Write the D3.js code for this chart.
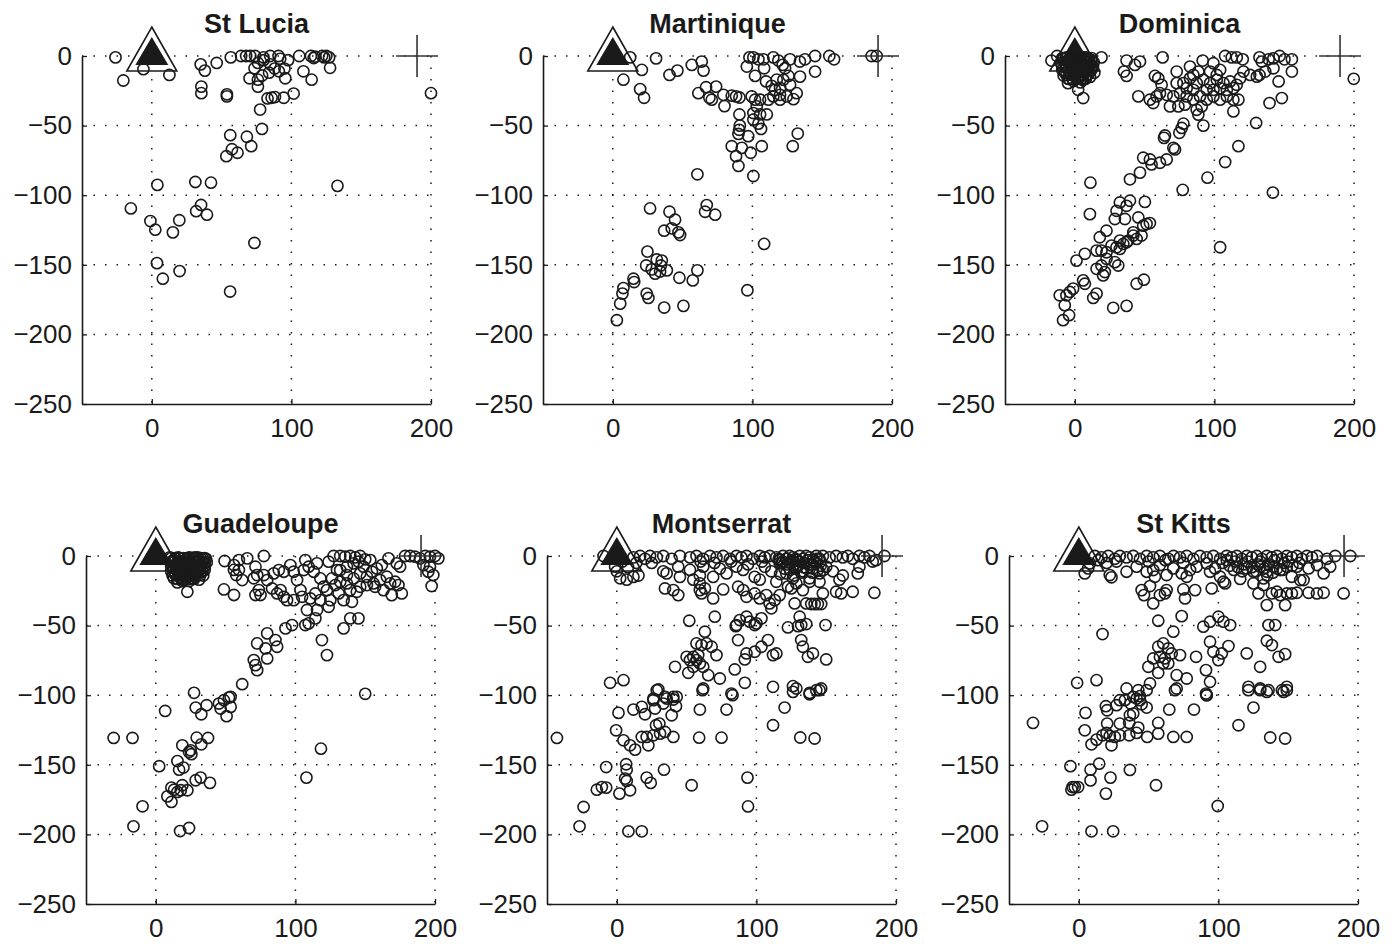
<!DOCTYPE html>
<html>
<head>
<meta charset="utf-8">
<script src="https://cdn.jsdelivr.net/npm/d3@7"></script>
<style>
  body { margin: 0; background: #fff; }
  svg text { font-family: "Liberation Sans", Arial, Helvetica, sans-serif; fill: #1a1a1a; }
</style>
</head>
<body>
<div id="chart"></div>
<script>
// depth (y) vs along-arc distance (x) for each island
const xTicks = [0, 100, 200];
const yTicks = [0, -50, -100, -150, -200, -250];
const gridY = [0, -50, -100, -150, -200];
const volcano = [0, 0];
const station = [190, 0];

const stLucia = [[-26,-1],[-20.4,-17.6],[-6,-9.5],[12.6,-13.6],[35,-6],[38,-10.5],[46.5,-5],[35.5,-22],[35.5,-26.7],
  [53.8,-27.5],[53.8,-29],[56.6,-1],[64,0],[67.6,0],[70.5,0],[74,0],[80,-1],[84.8,0],[90.8,0],[92,-2],[73.6,-8.8],
  [76,-5],[80,-3],[85,-6],[88,-9],[91,-11],[95,-9],[84,-12],[79,-14],[70,-16],[76,-17],[76,-22],[95.6,-16],[97.6,-3],
  [105.6,0],[108.6,-11],[114.5,-17],[114,0],[116,-1.5],[117,-0.5],[122,0],[123.5,-1],[125,0],[127,-1],[127.7,-8.5],
  [101.6,-27],[94.5,-30],[82.9,-30.5],[85.8,-30],[88.2,-29.5],[77.6,-38.5],[200,-26.7],[78.9,-52.4],[56.2,-56.9],
  [68.1,-58],[71.2,-64.8],[57.4,-67],[61.4,-69.5],[53.4,-72],[4,-92.6],[31.2,-90.5],[42.4,-91],[133,-93.3],
  [-15,-109.5],[35.3,-107],[31.8,-111.5],[39.5,-114],[-1,-118.6],[19.7,-118],[2.5,-124.8],[15.1,-126.7],
  [73.5,-134.3],[3.7,-148.8],[19.9,-154.5],[7.9,-160],[56.1,-169.2]];

const martinique = [[12.4,-1],[31,-1.7],[7.6,-17],[20.8,-10],[19.6,-23.8],[22.4,-30],[40.6,-13.6],[46.3,-10.5],
  [56.6,-6.4],[63.7,-4],[65,-10.5],[61.3,-26.7],[66.8,-22.4],[74,-22],[69.2,-30],[70.9,-31.4],[80,-36],[85.2,-28.5],
  [88.3,-29],[90.7,-29.8],[79.2,-27.9],[90.7,-42],[91,-50],[90.5,-53],[90,-56],[97,-57.6],[85.2,-64.8],[92.4,-66],
  [88.3,-72],[90,-79],[98.8,-69.5],[106.7,-64.8],[132.5,-55.7],[128.9,-64.8],[60.6,-85],[100.7,-86.2],
  [97.9,-1],[100.7,-1],[104.3,-2.4],[107.9,-2.4],[115,-1],[118.6,-3.3],[121.7,-6.4],[123.4,-8.8],[127,-2.4],[134,-4],
  [137.7,-2.4],[144.9,0],[155.1,0],[158.5,-2.4],[96,-7.6],[101.9,-14.3],[108.4,-8.8],
  [109.8,-18.3],[113.8,-21.4],[116.2,-24.3],[119.8,-23],[115,-29],[119.8,-31.4],[124.6,-29],[129.4,-31],[127,-20.7],
  [122.2,-17.1],[134.1,-14.8],[131.7,-26.7],[144.9,-11.2],[111.5,-31.4],[105.5,-31.4],[101.9,-31.4],[103.1,-36.2],
  [100.7,-41],[105.5,-42],[110.3,-42],[100.7,-45.7],[106.2,-52.4],[104.3,-48.6],[99.5,-29],[117.4,-17],[125.8,-14.3],
  [119.8,-27.9],[185.4,0],[189,0],
  [26.7,-109.5],[67.3,-107.1],[66.1,-111.9],[73.3,-114],[40.6,-111.9],[44.6,-117.6],[36.8,-125.5],[42.2,-123.8],
  [47,-126.7],[48.2,-128.6],[108.4,-135],[24.8,-140.5],[23.9,-150.5],[31.5,-146.2],[35.1,-147],[34.4,-150.5],
  [27.9,-153.3],[30.3,-156.4],[33.9,-154.8],[38.7,-154],[47.7,-159.3],[57.3,-161.2],[60.6,-154],[14.8,-160],
  [15.3,-162.4],[7.6,-166.7],[6.9,-170.7],[5.3,-177.9],[2.9,-189.8],[24.3,-170.7],[25.5,-173.8],[36.8,-180.7],
  [50.6,-179.5],[96.4,-168.3]];

// the dense near-summit swarm of Dominica, read as a tight cluster
const dominicaSwarm = [[-9,-1.5],[-6,-1.5],[-3,-1.5],[0,-1.5],[3,-1.5],[6,-1.5],[9,-1.5],[12,-1.5],
  [-7.5,-4.5],[-4.5,-4.5],[-1.5,-4.5],[1.5,-4.5],[4.5,-4.5],[7.5,-4.5],[10.5,-4.5],[13.5,-4.5],
  [-9,-7.5],[-6,-7.5],[-3,-7.5],[0,-7.5],[3,-7.5],[6,-7.5],[9,-7.5],[12,-7.5],
  [-7.5,-10.5],[-4.5,-10.5],[-1.5,-10.5],[1.5,-10.5],[4.5,-10.5],[7.5,-10.5],[10.5,-10.5],
  [-6,-13.5],[-3,-13.5],[0,-13.5],[3,-13.5],[6,-13.5],[9,-13.5],
  [-4.5,-16.5],[-1.5,-16.5],[1.5,-16.5],[4.5,-16.5],[7.5,-16.5]];

const dominica = [[-8,-2],[-5,-4],[-3,-1],[0,-2],[2,-5],[4,-3],[6,-1],[8,-4],[10,-2],[-6,-8],[-2,-9],[1,-7],[3,-10],
  [5,-8],[7,-11],[9,-7],[11,-6],[-4,-13],[0,-14],[3,-15],[6,-14],[8,-16],[-1,-18],[4,-19],[12,-3],[14,-12],[-9,-10],
  [10,-13],[2,-12],[-3,-5],[-10,-5],[-7,-12],[-5,-16],[-2,-3],[1,-11],[3,-1],[5,-13],[7,-6],[9,-10],[11,-15],
  [13,-8],[-1,-6],[4,-7],[6,-17],[-6,-1],[12,-10],[2,-16],[-8,-14],[8,-1],[0,-9],
  [-16.7,-3.3],[-12.7,0],[-4.8,-19.5],[2.4,-24.3],[6,-30.2],[19.1,-1],[37.1,-3.3],[35.2,-11.2],[37.1,-14.3],
  [43.1,-6.4],[46.7,-4],[62.9,-1],[45.5,-29],[53.8,-31.4],[56.2,-33.8],[58.6,-29],[61,-26.7],[57.4,-14.3],[59.8,-16],
  [62.2,-20.7],[73,-11.2],[73,-19.5],[68.2,-36.2],[74.2,-36.2],[78.9,-35],[65.8,-27.9],[70.6,-29],[75.4,-26.7],
  [80.1,-29],[84.9,-31.4],[89.7,-29],[94.5,-31.4],[99.3,-29],[104.1,-31.4],[108.9,-29],[113.6,-31.4],[117.2,-31.4],
  [82.5,-7.6],[84.9,-13.6],[91.6,-3.3],[99.3,-5.2],[104.1,-10],[87.3,-19.5],[92.1,-17.1],[96.9,-19.5],[101.7,-17.1],
  [106.5,-19.5],[111.2,-18.3],[116,-20.7],[94.5,-24.3],[99.3,-24.3],[104.1,-23.1],[108.9,-24.3],[113.6,-23.1],
  [84.9,-24.3],[80.1,-23.1],[77.8,-19.5],[82.5,-16],[88.5,-11.2],[96.9,-11.2],[101.7,-13.6],[107.7,0],[112.4,-1],
  [116,-1],[120.3,-2.4],[132.3,-1],[134,-4],[138.8,-2.4],[142.3,-1.7],[146.7,0],[150.2,-2.4],[155.5,-2.4],
  [142.3,-8.8],[155.5,-11.2],[120.8,-11.2],[125.6,-13.6],[130.4,-14.8],[136.4,-11.2],[132.3,-13.6],[118.4,-16],
  [146,-18.3],[148.3,-30.2],[139.5,-33.8],[129.9,-48.1],[117.2,-64.8],[107.7,-76.2],[95,-87.4],[77.3,-96.2],
  [141.9,-98.1],[199.8,-16.4],[113.6,-39.8],[92.1,-50],[88.5,-42.1],[87.3,-38.6],[90.9,-36.2],[77.8,-48.6],
  [76.6,-51.7],[74.9,-55.2],[64.6,-57.1],[63.9,-58.8],[70.6,-66],[71.8,-67.1],[65.8,-74.3],[61,-76.7],[55,-77.9],
  [53.8,-74.3],[49,-73.1],[46.7,-83.8],[39.5,-88.6],[11.2,-91],
  [10.8,-113.6],[29.9,-111.2],[35.9,-117.1],[37.1,-107.6],[32.3,-105.2],[39.5,-104],[50.2,-104.8],[45.5,-116],
  [51.4,-120.7],[53.8,-120],[49,-121.9],[41.9,-126.7],[44.3,-131.4],[37.1,-133.8],[32.3,-132.6],[28.7,-117.1],
  [22.7,-125.5],[17.9,-130.2],[15.6,-139.8],[19.1,-139.8],[22.7,-141],[26.3,-136.2],[29.9,-137.4],[32.3,-138.6],
  [34.7,-135],[38.3,-132.6],[41.9,-129],[47.8,-129],[19.1,-150.5],[21.5,-155.2],[20.3,-157.6],[1.2,-147],
  [7.2,-142.1],[6,-161.2],[7.2,-163.6],[-1.2,-167.1],[-3.6,-169.5],[-6,-171.9],[-10.8,-171.9],[-7.2,-179],
  [-8.4,-189.8],[-4.1,-186.2],[13.2,-173.8],[15.6,-170.7],[27.5,-180.9],[37.1,-179.5],[44.3,-163.6],[49.5,-160.7],
  [104.1,-137.4],[15.6,-152.9],[28.7,-148.1],[31.1,-150.5],[22.7,-145.7]];

// the dense swarm just east of the Guadeloupe summit
const guadeloupeSwarm = [[11,-1.5],[14,-1.5],[17,-1.5],[20,-1.5],[23,-1.5],[26,-1.5],[29,-1.5],[32,-1.5],[35,-1.5],
  [12.5,-4.5],[15.5,-4.5],[18.5,-4.5],[21.5,-4.5],[24.5,-4.5],[27.5,-4.5],[30.5,-4.5],[33.5,-4.5],[36.5,-4.5],
  [11,-7.5],[14,-7.5],[17,-7.5],[20,-7.5],[23,-7.5],[26,-7.5],[29,-7.5],[32,-7.5],[35,-7.5],
  [12.5,-10.5],[15.5,-10.5],[18.5,-10.5],[21.5,-10.5],[24.5,-10.5],[27.5,-10.5],[30.5,-10.5],[33.5,-10.5],
  [14,-13.5],[17,-13.5],[20,-13.5],[23,-13.5],[26,-13.5],[29,-13.5],[32,-13.5],
  [15.5,-16.5],[18.5,-16.5],[21.5,-16.5],[24.5,-16.5],[27.5,-16.5]];

const guadeloupe = [[10,-1],[13,-3],[16,-1],[19,-4],[22,-2],[25,-5],[28,-1],[31,-3],[34,-2],[12,-7],[15,-9],[18,-6],
  [21,-10],[24,-8],[27,-11],[30,-7],[33,-9],[14,-13],[17,-15],[20,-12],[23,-14],[26,-16],[29,-13],[32,-12],[35,-5],
  [11,-11],[20,-17],[24,-18],[15.5,-19],[22.6,-25.7],[11,-4],[14,-2],[17,-5],[20,-7],[23,-3],[26,-6],[29,-9],
  [32,-6],[35,-10],[36,-2],[13,-16],[16,-12],[19,-18],[22,-9],[25,-12],[28,-15],[31,-17],[34,-14],[12,-14],[18,-10],
  [27,-4],[30,-1],[21,-14],[33,-4],[24,-1],
  [49.3,-3.6],[56,-28],[48.8,-24],[56,-6.5],[59.5,-10],[57.6,-13.7],[61.9,-17.3],[65.5,-1.7],[56,-10],[59.5,-2.9],
  [71.4,-7.7],[72.6,-13.7],[70.2,-16],[77.4,0],[77.4,-13.7],[79.8,-17.3],[73.8,-24.5],[71.4,-28],[75,-28],
  [84.5,-12.5],[88.1,-10.1],[91.7,-11.3],[89.3,-24.5],[91.7,-29.3],[94,-31.7],[86.9,-26.9],[83.3,-23.3],[96.4,-6.5],
  [98.8,-11.3],[101.2,-17.3],[103.6,-24.5],[104.8,-29.3],[98.8,-31.7],[106,-10.1],[107.1,-2.9],[109.5,-7.7],
  [113.1,-11.3],[115.5,-5.3],[117.9,-16.1],[120.2,-22.1],[122.6,-24.5],[125,-31.7],[123.8,-36.5],[117.9,-31.7],
  [114.3,-26.9],[110.7,-30.5],[115.5,-38.8],[108.3,-38.8],[109.5,-48.4],[107.1,-49.6],[114.3,-44.8],[119,-60.4],
  [122.6,-71.2],[97.6,-49.6],[92.9,-52],[86.9,-65.2],[85.7,-60.4],[79.8,-55.6],[72.6,-62.8],[78.6,-66.4],
  [79.8,-73.6],[70.2,-74.8],[71.4,-78.4],[72.6,-82],[61.9,-92.1],
  [127.4,0],[132.1,0],[135.7,-0.5],[139.3,0],[142.9,-1],[146.4,0],[150,-2.4],[153.6,-2.9],[132.1,-10.1],[136.9,-7.7],
  [141.7,-5.3],[145.2,-4.1],[148.8,-7.7],[136.9,-13.7],[141.7,-16.1],[146.4,-12.5],[151.2,-14.9],[154.8,-11.3],
  [158.3,-8.9],[161.9,-6.5],[156,-19.7],[160.7,-17.3],[165.5,-14.9],[167.9,-19.7],[171.4,-18.5],[173.8,-20.9],
  [176.2,-26.9],[169,-28.1],[163.1,-24.5],[157.1,-22.1],[151.2,-20.9],[146.4,-22.1],[144,-25.7],[139.3,-24.5],
  [136.9,-19.7],[132.1,-18.5],[131,-26.9],[134.5,-31.7],[140.5,-32.9],[139.3,-44.8],[145.2,-44.8],[134.5,-52],
  [166.7,-1.7],[172.6,-5.3],[175,-7.7],[178.6,0],[182.1,0],[185.7,-0.5],[189.3,-1.7],[192.9,0],[196.4,-0.5],[200,0],
  [202.4,-1.7],[196.4,-7.7],[198.8,-13.7],[197.6,-21.6],[195.2,-11.3],[191.7,-6.5],[123.8,-4.1],[126.2,-16.1],
  [128.6,-20.9],[129.8,-10.1],[150,-99],
  [27.4,-98.3],[6.7,-111.3],[28.6,-108.9],[36.4,-107.2],[32.6,-113.7],[45.2,-106],[48.8,-103.6],[52.4,-101.7],
  [53.6,-108.4],[50.7,-115.1],[46.4,-109.6],[53.6,-101.2],[-30.2,-130.7],[-16.7,-130.7],[37.4,-130.7],[29.3,-130.5],
  [32.6,-135.3],[19,-136],[25,-139.6],[25.5,-142.4],[23.8,-140.8],[2.4,-151],[15.5,-147.3],[16.7,-153.5],[19.8,-152],
  [32.1,-159.2],[28.6,-161.1],[38.8,-163],[11.2,-166.4],[19,-164.7],[22.6,-168.3],[15.5,-169.5],[8.3,-172.7],
  [11.2,-176.7],[17.9,-168.3],[13.1,-167.9],[-9.5,-179.8],[-16,-194.2],[17.4,-197.6],[23.8,-195.4],[107.9,-159.2],
  [118.3,-138.4]];

const montserrat = [[-9.5,0],[0,-1],[11.9,-1],[16.7,0],[20.2,-2],[23.8,0],[28.6,-1],[33.3,0],[39.3,-2],[45.2,0],
  [52.4,-1],[57.1,0],[61.9,-2],[66.7,0],[71.4,-1],[76.2,0],[81,-2],[85.7,0],[89.3,-1],[92.9,0],[97.6,-2],[102.4,0],
  [106,-1],[109.5,0],[114.3,-1],[116.7,-3],[119,0],[121.4,-2],[123.8,0],[126.2,-1],[128.6,-3],[131,0],[133.3,-2],
  [135.7,0],[138.1,-1],[140.5,-3],[142.9,0],[145.2,-2],[147.6,0],[152.4,-1],[157.1,0],[161.9,-1],[165.5,0],[169,-2],
  [173.8,0],[177.4,-1],[181,0],[185.7,-3],[191.7,0],
  [118,-5],[122,-6],[126,-4],[130,-7],[134,-5],[138,-6],[142,-4],[146,-7],[120,-9],[128,-9],[136,-9],[144,-10],
  [60,-4],[70,-5],[82,-4],[94,-6],[104,-4],[4,-4],[8,-8],[14,-5],
  [116,-2],[119,-4],[122,-2],[125,-5],[128,-2],[131,-4],[134,-8],[137,-3],[140,-6],[143,-2],[146,-4],[124,-10],
  [132,-12],[140,-12],[148,-10],[117,-13],[127,-14],
  [-1.2,-7.7],[0,-11],[2.4,-16],[7.1,-17],[11.9,-15],[15.5,-14],[25,-5],[33.3,-11],[35.7,-12.5],[44,-7.7],[45.2,-15],
  [52.4,-10],[54.8,-17],[59.5,-14],[61.9,-7.7],[69,-15],[73.8,-9],[78.6,-12.5],[85.7,-7.7],[90.5,-10],[98.8,-15],
  [102.4,-17],[106,-7.7],[110.7,-11],[116.7,-5],[121.4,-12.5],[126.2,-16],[128.6,-7.7],[133.3,-11],[138.1,-16],
  [140.5,-9],[145.2,-12.5],[150,-7.7],[154.8,-11],[159.5,-17],[161.9,-14],[172.6,-12.5],[173.8,-7.7],[183.3,-4],
  [128.6,-19.7],[122.6,-22],[138.1,-18.5],[145.2,-18.5],[114.3,-18.5],
  [34.5,-23.3],[40.5,-24.5],[44,-28.1],[59.5,-19.7],[59.5,-24.5],[60.7,-26.9],[63.1,-23.3],[69,-30.5],[76.2,-24],
  [86.9,-22.1],[90.5,-24.5],[92.9,-29.3],[98.8,-26.9],[102.4,-30.5],[107.1,-28.1],[109.5,-34.1],[110.7,-37.6],
  [113.1,-31.7],[116.7,-28.1],[125,-23.3],[127.4,-34.1],[133.3,-24.5],[135.7,-34.1],[139.3,-34.5],[141.7,-34.5],
  [144,-34.5],[146.4,-34.5],[147.6,-26.9],[157.1,-25.7],[160.7,-26.9],[169,-25.7],[184.5,-26.4],
  [51.9,-46.5],[70.2,-43.6],[85.7,-49.6],[88.1,-46],[92.9,-43.6],[95.2,-47.2],[98.8,-49.6],[103.6,-44.8],
  [85.2,-50.4],[100,-48.4],[122.6,-51.3],[131,-43.6],[132.1,-49.6],[135.7,-48.9],[129.8,-50.4],[149.5,-49.6],
  [63.1,-54.4],[57.1,-62.8],[60.7,-64],[64.3,-62.8],[67.9,-65.2],[71.4,-71.2],[50,-72.4],[52.4,-74.8],[54.8,-72.4],
  [57.1,-74.8],[59.5,-77.2],[58.3,-71.2],[54.8,-79.6],[61.9,-79.6],[41.7,-79.6],[51.2,-83.9],[65.5,-85.6],[73.8,-88],
  [86.9,-60.4],[92.9,-70],[91.7,-74.3],[98.8,-68.8],[103.6,-65.2],[108.3,-60.4],[111.9,-71.2],[114.3,-70],
  [84.5,-81.5],[91.7,-91.1],[132.1,-60.4],[133.3,-65.2],[136.9,-72.4],[140.5,-70],[150,-74.3],[-4.8,-91.1],
  [4.8,-89.2],[29.8,-95.9],[61.9,-95.2],[82.1,-98.8],[111.9,-94],[126.2,-93.5],[128.6,-95.2],[138.1,-98.3],
  [142.9,-96.4],[146.4,-95.2],[26.2,-102.4],[34.5,-101.2],[40.5,-103.1],[42.9,-101.2],
  [28.6,-96.4],[26.2,-103.6],[17.9,-108.4],[20.2,-113.7],[11.9,-110.3],[1.2,-112.7],[27.4,-109.6],[33.3,-106],
  [35.7,-102.4],[40.5,-101.2],[42.4,-107.9],[39.3,-114.4],[30.5,-120.4],[28.1,-121.6],[34.5,-126.4],[40.5,-130],
  [31,-127.6],[26.2,-128.8],[21.4,-130],[17.9,-130],[22.6,-136],[-0.5,-125.2],[4.8,-132.4],[9.5,-136],[13.1,-139.1],
  [-42.9,-130.7],[-7.6,-151.6],[6.7,-149.6],[7.1,-153.5],[6,-159.9],[7.1,-161.6],[1.9,-170.7],[9.5,-168.3],
  [-14.3,-167.9],[-10.7,-166],[-7.6,-166.4],[-23.8,-180.3],[-26.7,-194.2],[8.3,-197.8],[17.9,-197.8],[21.4,-159.2],
  [24.3,-163],[33.8,-153.5],[53.6,-164.7],[59.5,-110.3],[59,-130.5],[75,-130.5],[78.6,-110.3],[82.9,-100],
  [61.4,-96.4],[93.6,-159.2],[94,-179.9],[111.9,-121.6],[120.2,-108.9],[126.2,-97.6],[138.1,-99.3],[145.2,-96.4],
  [131.4,-130.4],[141.7,-131.1]];

const stKitts = [[11.5,0],[16.3,-1],[21.1,0],[25.8,-2],[29.4,0],[34.2,-1],[39,0],[43.8,-2],[48.6,0],[53.3,-1],
  [58.1,0],[64.1,-2],[67.9,0],[72.5,-1],[77.3,0],[82.1,-2],[86.8,0],[91.6,-1],[96.4,0],[101.2,-2],[105.9,0],
  [109.6,-1],[113.2,0],[116.7,-2],[120.3,0],[123.9,-1],[127.5,0],[131.1,-2],[134.7,0],[138.3,-1],[141.9,0],
  [145.5,-2],[149,0],[152.6,-1],[156.2,0],[159.8,-2],[163.4,0],[167,-1],[170.6,0],[177.8,-2],[183.7,0],[194.5,0],
  [103,-5],[108,-7],[112,-4],[118,-6],[124,-8],[130,-4],[136,-6],[142,-9],[147,-5],[153,-7],[111,-10],[127,-11],
  [139,-12],[14,-3],[20,-5],[27,-4],[50,-4],[62,-3],[75,-5],
  [106,-3],[114,-8],[121,-4],[128,-6],[133,-9],[140,-3],[146,-10],[150,-4],[158,-5],[117,-11],[135,-14],
  [4.3,-12.5],[6.7,-8.9],[7.9,-5.3],[22.2,-13.7],[23.4,-15.3],[34.2,-11.3],[41.4,-7.7],[48.6,-11.3],[53.3,-10.1],
  [54.5,-14.9],[58.1,-6.5],[62.9,-13.7],[67.7,-8.9],[73.7,-12.5],[77.3,-14.9],[79.7,-10.1],[84.4,-7.7],[91.6,-5.3],
  [94,-11.3],[97.6,-8.9],[101.2,-14.9],[103.6,-18.5],[115.6,-16.5],[120.3,-8.9],[125.1,-11.3],[129.9,-7.7],
  [132.3,-16.1],[134.7,-11.3],[139.5,-7.7],[144.3,-10.1],[149,-7.7],[152.6,-14.9],[156.2,-7.7],[161,-17.3],
  [164.6,-8.9],[170.6,-6.5],[175.4,-12.5],[180.1,-7.7],
  [45,-24.5],[46.7,-28.1],[51,-21.6],[53.3,-34.1],[58.1,-28.1],[61.7,-26.9],[62.9,-24.5],[74.9,-24],[76.1,-30.5],
  [83.3,-24.5],[95.2,-23.3],[104.8,-19.7],[125.1,-19.7],[128.7,-26.9],[132.3,-20.9],[134.7,-35.3],[138.3,-26.9],
  [141.9,-25.7],[144.3,-28.1],[147.8,-35.3],[149,-26.9],[152.6,-26.9],[156.2,-26.4],[158.6,-17.3],[164.6,-26.4],
  [170.6,-26.9],[175.4,-26.4],[189.7,-26.9],
  [17,-56.1],[56.9,-46.5],[73.7,-43.2],[89.2,-50.8],[94,-47.2],[100,-43.6],[103.6,-47.2],[108.4,-49.6],
  [135.9,-49.6],[140.7,-49.6],[67.7,-54.4],[56.9,-65.2],[60.5,-62.8],[64.1,-66.4],[66.5,-70],[72.5,-71.2],
  [58.1,-72.4],[61.7,-73.6],[64.1,-77.2],[60.5,-77.2],[53.3,-73.6],[49.8,-79.6],[56.9,-83.9],[70.1,-85.6],
  [77.3,-88],[70.1,-95.2],[84,-72.4],[94,-61.6],[96.4,-68.8],[100,-74.8],[102.4,-70],[107.2,-64.7],[91.1,-82],
  [94,-90.4],[91.1,-98.8],[120.3,-70],[129.9,-79.6],[121.5,-94],[129.9,-95.2],[135.9,-96.4],[145.5,-96.4],
  [149,-94],[134.7,-60.9],[138.3,-64],[143.1,-72.4],[147.8,-70.5],[-1.2,-91.1],[12.7,-89.2],[34.2,-95.2],
  [42.6,-96.4],[51,-91.6],[43.8,-103.6],[39,-101.2],[29.4,-103.6],[91.6,-100],
  [-32.8,-119.9],[4.8,-112.7],[4.3,-125.2],[9.1,-135.3],[12.7,-131.9],[17,-128.8],[19.4,-107.9],[20.3,-110.8],
  [27,-107.2],[33,-103.6],[37.1,-106],[41.4,-102.4],[45,-106.5],[48.6,-108.9],[39,-113.2],[36.6,-114.4],
  [43.8,-100.7],[20.3,-120.4],[29.4,-120.4],[36.1,-119.9],[42.6,-123.3],[41.4,-127.1],[36.1,-128.8],[29.4,-128.8],
  [25.8,-130],[19.9,-127.1],[23.4,-136],[22.2,-129.3],[49,-130],[56.9,-127.6],[56.9,-119.9],[64.8,-110.3],
  [67.7,-130],[77.3,-130],[82.5,-110.3],[91.6,-100],[68.9,-96.4],[48.6,-96.4],[-6,-151],[8.4,-153.5],[14.6,-149.2],
  [8.4,-161.2],[-4.5,-166],[-2.9,-166],[-0.5,-166],[-5.3,-167.9],[22.7,-159.2],[19.4,-170.7],[36.6,-153.7],
  [55.3,-164.7],[99.5,-179.6],[-26.3,-194.2],[9.1,-197.8],[24.6,-197.8],[114.4,-121.6],[125.1,-108.9],
  [121.5,-96.4],[129.9,-96.4],[134.7,-97.6],[146.7,-97.6],[149,-96.4],[137.1,-130.4],[147.8,-131.1]];

const panels = [
  { title: 'St Lucia', data: stLucia, left: 82, top: 56 },
  { title: 'Martinique', data: martinique, left: 543, top: 56 },
  { title: 'Dominica', data: dominica.concat(dominicaSwarm), left: 1005, top: 56 },
  { title: 'Guadeloupe', data: guadeloupe.concat(guadeloupeSwarm), left: 86, top: 556 },
  { title: 'Montserrat', data: montserrat, left: 547, top: 556 },
  { title: 'St Kitts', data: stKitts, left: 1009, top: 556 }
];

const PLOT_W = 349;
const PLOT_H = 348;
const INK = '#1a1a1a';

const svg = d3.select('#chart')
  .append('svg')
  .attr('width', 1392)
  .attr('height', 944)
  .style('background', '#fff');

const x = d3.scaleLinear().domain([-50, 200]).range([0, PLOT_W]);
const y = d3.scaleLinear().domain([-250, 0]).range([PLOT_H, 0]);

panels.forEach(p => {
  const g = svg.append('g').attr('transform', 'translate(' + p.left + ',' + p.top + ')');

  // dotted grid
  g.selectAll('.gy').data(gridY).enter().append('line')
    .attr('x1', 0).attr('x2', x(200))
    .attr('y1', d => y(d)).attr('y2', d => y(d))
    .attr('stroke', INK).attr('stroke-width', 1.5)
    .attr('stroke-dasharray', '1.5,10');
  g.selectAll('.gx').data(xTicks).enter().append('line')
    .attr('x1', d => x(d)).attr('x2', d => x(d))
    .attr('y1', y(0)).attr('y2', y(-250))
    .attr('stroke', INK).attr('stroke-width', 1.5)
    .attr('stroke-dasharray', '1.5,10');

  const yAxis = g.append('g')
    .call(d3.axisLeft(y).tickValues(yTicks).tickSizeInner(-5).tickSizeOuter(0).tickPadding(10));
  const xAxis = g.append('g')
    .attr('transform', 'translate(0,' + PLOT_H + ')')
    .call(d3.axisBottom(x).tickValues(xTicks).tickSizeInner(-5).tickSizeOuter(0).tickPadding(12));
  [yAxis, xAxis].forEach(a => {
    a.select('.domain').attr('stroke', INK).attr('stroke-width', 1.6);
    a.selectAll('.tick line').attr('stroke', INK).attr('stroke-width', 1.3);
    a.selectAll('.tick text').attr('font-size', 26).attr('fill', INK)
      .attr('font-family', '"Liberation Sans", Arial, sans-serif');
  });
  xAxis.selectAll('.tick text').attr('dy', '0.8em');

  g.append('text')
    .attr('x', PLOT_W / 2)
    .attr('y', -23)
    .attr('text-anchor', 'middle')
    .attr('font-size', 27)
    .attr('font-weight', 'bold')
    .text(p.title);

  // volcano marker
  const vx = x(volcano[0]);
  const vy = y(volcano[1]);
  g.append('path')
    .attr('d', 'M' + vx + ',' + (vy - 29) + 'L' + (vx + 25) + ',' + (vy + 15) + 'L' + (vx - 25) + ',' + (vy + 15) + 'Z')
    .attr('fill', '#fff').attr('stroke', INK).attr('stroke-width', 1.6);
  g.append('path')
    .attr('d', 'M' + vx + ',' + (vy - 19) + 'L' + (vx + 16.5) + ',' + (vy + 9) + 'L' + (vx - 16.5) + ',' + (vy + 9) + 'Z')
    .attr('fill', INK);

  g.selectAll('circle.eq').data(p.data).enter().append('circle')
    .attr('class', 'eq')
    .attr('cx', d => x(d[0]))
    .attr('cy', d => y(d[1]))
    .attr('r', 5.6)
    .attr('fill', 'none')
    .attr('stroke', INK)
    .attr('stroke-width', 1.6);

  // station cross
  const sx = x(station[0]);
  const sy = y(station[1]);
  g.append('line').attr('x1', sx - 21).attr('x2', sx + 21).attr('y1', sy).attr('y2', sy)
    .attr('stroke', '#333').attr('stroke-width', 1.6);
  g.append('line').attr('x1', sx).attr('x2', sx).attr('y1', sy - 21).attr('y2', sy + 21)
    .attr('stroke', '#333').attr('stroke-width', 1.6);
});
</script>
</body>
</html>
